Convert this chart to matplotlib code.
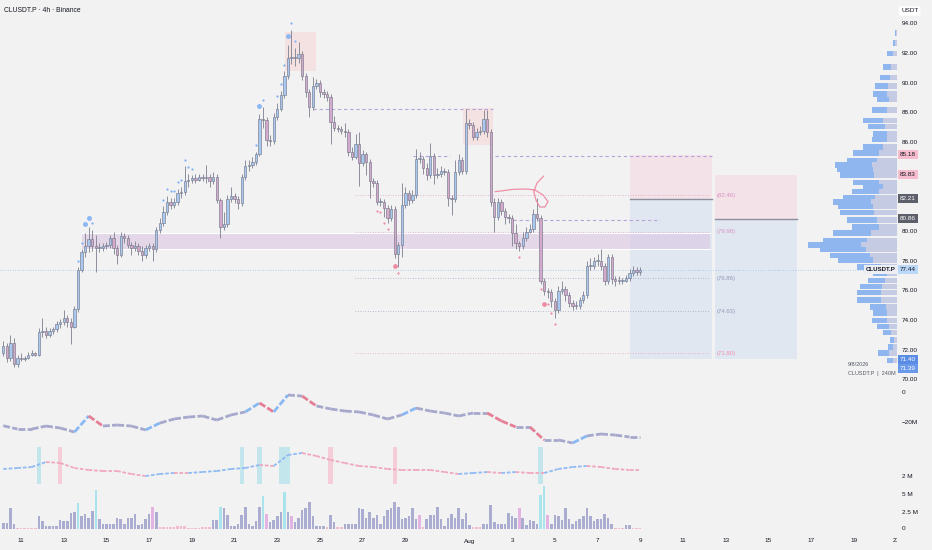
import matplotlib
matplotlib.use("Agg")
import matplotlib.pyplot as plt
from matplotlib.patches import Rectangle
from matplotlib.transforms import blended_transform_factory as blend

plt.rcParams['font.family'] = ['Liberation Sans', 'DejaVu Sans']

# ---- candle data (4h, index 0 .. 179, last = Aug 9 00:00) ----
first_open = 71.8
closes = [
    72.3, 71.5, 72.5, 71.1, 71.5, 71.4, 71.5, 71.7, 71.8, 71.7,
    73.2, 73.3, 73.0, 73.3, 73.4, 73.8, 73.9, 74.2, 73.9, 73.6,
    74.8, 77.4, 78.6, 79.0, 79.5, 79.0, 78.9, 78.9, 79.0, 79.1,
    79.6, 78.9, 78.4, 79.7, 79.6, 79.1, 78.9, 79.0, 78.7, 78.4,
    78.9, 79.0, 78.8, 80.1, 80.6, 81.3, 82.0, 81.8, 82.0, 82.6,
    82.7, 83.4, 83.5, 83.6, 83.5, 83.7, 83.6, 83.7, 83.4, 83.7,
    82.1, 80.3, 80.5, 82.2, 82.4, 82.2, 81.9, 83.7, 84.4, 84.5,
    84.7, 85.2, 87.6, 87.5, 86.2, 86.1, 87.7, 88.3, 89.2, 90.5,
    91.7, 91.8, 91.7, 92.0, 90.5, 89.4, 88.4, 89.8, 90.0, 89.4,
    89.3, 89.1, 87.4, 87.0, 86.9, 86.8, 86.7, 85.4, 85.0, 85.9,
    84.6, 85.2, 84.7, 83.4, 83.3, 82.0, 82.0, 81.6, 80.9, 81.5,
    78.5, 79.1, 81.8, 82.6, 82.1, 82.5, 84.9, 84.9, 84.3, 83.8,
    85.1, 83.8, 83.9, 84.1, 84.0, 82.3, 82.2, 84.0, 84.8, 84.1,
    87.3, 87.2, 86.4, 86.7, 86.8, 87.6, 86.7, 82.0, 81.0, 82.0,
    81.4, 81.0, 80.9, 79.9, 79.2, 79.0, 79.6, 80.0, 80.2, 81.2,
    80.9, 76.7, 76.0, 75.9, 75.3, 74.7, 76.0, 76.1, 75.7, 75.2,
    75.0, 75.0, 75.4, 75.7, 77.7, 77.7, 78.0, 78.0, 77.7, 76.7,
    78.3, 76.8, 76.7, 76.7, 76.7, 76.9, 77.2, 77.4, 77.3, 77.44,
]
highs = [
    72.6, 72.5, 73.0, 72.8, 71.7, 71.8, 71.6, 71.9, 72.0, 71.9,
    73.5, 74.2, 73.6, 73.5, 73.6, 74.0, 74.1, 74.7, 74.4, 74.2,
    75.0, 77.6, 78.8, 79.9, 80.3, 80.1, 79.8, 79.2, 79.2, 79.3,
    79.8, 80.0, 79.1, 80.0, 79.9, 79.8, 79.3, 79.4, 79.2, 79.0,
    79.1, 79.2, 79.2, 80.3, 80.9, 81.7, 82.4, 82.3, 82.3, 82.9,
    83.0, 84.4, 83.9, 83.8, 83.9, 83.9, 83.9, 84.5, 83.9, 84.0,
    83.9, 82.3, 81.3, 82.5, 83.0, 82.6, 82.4, 83.9, 84.8, 84.8,
    85.0, 85.4, 87.9, 88.4, 87.7, 86.5, 88.0, 88.7, 89.5, 90.8,
    92.6, 93.6, 92.4, 92.8, 92.2, 90.7, 89.6, 90.4, 90.3, 90.2,
    89.6, 89.5, 89.3, 87.8, 87.2, 87.1, 87.3, 86.9, 85.7, 86.6,
    86.7, 85.5, 85.4, 84.9, 83.6, 83.5, 82.3, 82.2, 81.8, 81.8,
    81.7, 79.3, 83.3, 83.0, 82.8, 82.8, 85.6, 85.4, 85.1, 84.6,
    86.0, 85.3, 84.3, 84.4, 84.3, 84.2, 82.5, 84.8, 85.2, 85.0,
    88.3, 87.6, 87.4, 87.0, 87.1, 88.2, 88.2, 86.9, 82.3, 82.3,
    82.2, 81.6, 81.2, 81.1, 80.5, 79.4, 80.0, 80.3, 80.5, 81.5,
    82.3, 81.1, 76.9, 76.2, 76.1, 75.5, 76.3, 76.7, 76.3, 75.9,
    75.4, 75.3, 75.6, 76.0, 78.0, 78.2, 78.3, 78.5, 78.8, 77.9,
    78.5, 78.5, 77.0, 77.0, 76.9, 77.1, 77.5, 77.7, 77.6, 77.6,
]
lows = [
    71.6, 71.2, 71.3, 70.9, 70.9, 71.3, 71.3, 71.4, 71.6, 71.6,
    71.6, 72.9, 72.8, 72.9, 73.1, 73.2, 73.5, 73.7, 73.6, 72.4,
    73.5, 74.6, 77.3, 78.3, 78.6, 78.7, 77.3, 78.6, 78.7, 78.8,
    78.9, 78.5, 77.8, 78.3, 79.2, 78.9, 78.4, 78.7, 78.4, 78.0,
    78.2, 78.7, 78.0, 78.6, 79.9, 80.4, 81.1, 81.5, 81.6, 81.8,
    82.3, 82.5, 83.0, 83.3, 83.3, 83.4, 83.4, 83.3, 83.0, 83.2,
    81.9, 79.6, 80.1, 80.3, 82.0, 81.9, 81.5, 81.7, 83.5, 84.1,
    84.3, 84.5, 85.1, 87.0, 85.8, 85.8, 85.9, 87.5, 88.1, 89.0,
    90.3, 91.3, 91.2, 91.4, 90.2, 89.1, 87.7, 88.2, 89.6, 89.1,
    89.0, 88.8, 85.9, 86.8, 86.7, 86.6, 86.4, 85.1, 84.8, 84.9,
    83.1, 84.4, 83.8, 82.3, 83.0, 81.8, 81.7, 81.0, 80.6, 80.7,
    78.2, 77.6, 78.3, 81.6, 81.8, 81.9, 82.3, 84.6, 83.9, 83.5,
    83.6, 83.2, 83.6, 83.7, 83.8, 81.7, 81.1, 82.0, 83.8, 83.9,
    83.9, 86.9, 86.2, 86.2, 86.5, 86.6, 86.4, 81.7, 80.0, 80.8,
    81.1, 80.5, 80.6, 79.0, 78.8, 78.7, 78.8, 79.4, 79.9, 80.0,
    80.7, 76.5, 75.7, 75.5, 74.9, 74.2, 74.5, 75.8, 75.3, 74.9,
    74.7, 74.8, 74.8, 75.2, 75.5, 77.4, 77.5, 77.7, 77.4, 76.4,
    76.5, 76.5, 76.3, 76.5, 76.5, 76.6, 76.7, 77.0, 77.1, 77.1,
]
volume_m = [
    0.96, 0.96, 3.23, 0.88, 0.29, 0.29, 0.29, 0.29, 0.29, 0.29,
    1.91, 1.18, 0.51, 0.51, 0.51, 0.51, 1.40, 1.32, 1.32, 2.43,
    2.50, 3.90, 1.91, 2.21, 1.76, 2.65, 5.88, 1.47, 0.74, 0.74,
    0.74, 0.74, 1.76, 1.47, 0.88, 1.62, 1.62, 2.35, 0.66, 0.88,
    1.47, 2.21, 3.38, 2.50, 0.37, 0.37, 0.37, 0.37, 0.37, 0.44,
    0.44, 0.44, 0.29, 0.29, 0.29, 0.29, 0.37, 0.37, 0.37, 1.40,
    1.40, 3.38, 3.23, 2.13, 0.51, 0.51, 0.88, 2.06, 3.38, 0.81,
    0.51, 1.32, 3.38, 4.92, 2.35, 1.10, 1.40, 1.91, 2.57, 5.44,
    2.57, 1.91, 1.10, 1.62, 2.87, 3.23, 3.97, 1.91, 0.51, 0.51,
    0.51, 0.37, 2.13, 1.03, 0.37, 0.37, 0.88, 0.88, 0.88, 0.88,
    3.09, 2.94, 1.62, 2.57, 1.76, 2.13, 0.88, 1.91, 2.87, 3.23,
    3.97, 3.38, 1.47, 1.62, 1.91, 3.23, 1.47, 2.13, 0.37, 1.47,
    2.13, 2.13, 3.38, 1.47, 0.51, 1.76, 2.35, 1.76, 3.23, 1.47,
    2.43, 0.66, 0.37, 0.37, 0.37, 0.88, 0.88, 3.60, 1.03, 0.88,
    0.81, 0.81, 2.43, 1.91, 1.76, 3.09, 1.76, 0.66, 1.40, 1.18,
    0.81, 5.07, 6.39, 2.13, 0.81, 2.13, 1.91, 1.40, 3.09, 1.47,
    0.88, 1.18, 1.47, 1.91, 3.23, 1.91, 1.18, 1.47, 1.47, 2.21,
    1.62, 0.81, 0.29, 0.29, 0.29, 0.59, 0.59, 0.29, 0.29, 0.29,
]
vol_cyan = [21, 26, 61, 73, 79, 151, 152]
vol_magenta = [42, 74, 81, 117, 145, 153]

# indicator panes, sampled every 4 candles
ind_idx = list(range(0, 180, 4)) + [179]
cvd_m = [-22.5, -24.7, -24.7, -22.7, -24.0, -26.7, -16.0, -22.7, -22.0, -22.7,
         -25.3, -20.7, -18.0, -16.7, -16.0, -18.7, -15.3, -13.3, -7.3, -13.3,
         -2.0, -2.7, -9.3, -11.3, -12.7, -13.3, -15.3, -18.0, -15.3, -10.7,
         -12.7, -14.0, -16.0, -14.0, -14.0, -19.3, -23.3, -23.3, -32.0, -32.0,
         -34.0, -29.3, -28.0, -28.7, -30.0, -30.0]
osc_m = [3.6, 3.8, 4.0, 5.0, 4.8, 3.8, 3.4, 3.2, 3.2, 2.6,
         2.2, 2.6, 2.8, 2.8, 3.0, 3.2, 3.6, 3.8, 4.4, 4.2,
         6.4, 6.8, 6.2, 5.4, 4.8, 4.2, 4.0, 3.6, 3.4, 3.4,
         3.4, 3.0, 2.6, 2.8, 3.0, 2.8, 3.0, 2.8, 2.8, 3.6,
         4.0, 4.2, 4.0, 3.6, 3.4, 3.4]
osc_bands_blue = [(10, 1), (67, 1), (72, 1), (78, 3), (151, 1)]
osc_bands_pink = [(16, 1), (92, 1), (110, 1)]

# markers
dots_up_small = [21, 22, 25, 45, 46, 47, 48, 49, 50, 51, 52, 53, 71, 73, 77, 78, 79, 81, 82]
dots_up_big = [23, 24, 72, 80]
dots_dn_small = [105, 106, 107, 108, 111, 145, 151, 153, 154, 155]
dots_dn_big = [110, 152]

# volume profile (price row, relative width)
prof_price = [93.4, 92.7, 92.0, 91.1, 90.4, 89.8, 89.3, 88.9, 88.2, 87.5, 87.1, 86.6,
              86.2, 85.7, 85.3, 84.8, 84.5, 84.2, 83.8, 83.3, 83.0, 82.7, 82.3, 82.0,
              81.7, 81.3, 80.8, 80.3, 79.9, 79.4, 79.1, 78.8, 78.4, 78.1, 77.6, 77.2,
              76.7, 76.3, 75.9, 75.4, 74.9, 74.5, 74.0, 73.6, 73.2, 72.7, 72.2, 71.8, 71.3]
prof_width = [2, 4, 10, 14, 17, 22, 24, 20, 25, 34, 29, 24,
              25, 34, 44, 50, 62, 60, 57, 44, 34, 45, 54, 64,
              59, 57, 50, 45, 64, 74, 89, 77, 67, 59, 40, 24,
              29, 37, 40, 40, 27, 24, 25, 20, 14, 7, 9, 19, 10]

# drawings
peak_boxes = [(79.2, 87.8, 90.85, 93.45), (129.2, 137.6, 85.84, 88.34)]
zone_band = (22.1, 198.6, 78.83, 79.90)
dashed_levels = [(88.27, 87.0, 137.6), (85.10, 115.1, 125.5), (85.10, 138.2, 199.2), (80.80, 143.2, 184.5)]
fib_levels = [82.46, 79.98, 76.86, 74.63, 71.80]
fib_labels = ["(82.46)", "(79.98)", "(76.86)", "(74.63)", "(71.80)"]
fib_colors = ["#d993c2", "#d993c2", "#8e97b8", "#8e97b8", "#ec8fae"]
positions = [(176.1, 199.2, 85.18, 82.21, 71.40), (200.0, 223.1, 83.83, 80.86, 71.39)]
swoosh_x = [138.2, 143.3, 147.2, 149.4, 151.7, 153.1, 152.2, 150.8, 149.7, 149.1, 150.0, 151.9]
swoosh_y = [82.69, 82.85, 82.87, 82.81, 82.47, 82.02, 81.66, 81.66, 82.13, 82.69, 83.28, 83.75]
last_price = 77.44

price_ticks = [94, 92, 90, 88, 86, 84, 82, 80, 78, 76, 74, 72, 70]
date_days = [11, 13, 15, 17, 19, 21, 23, 25, 27, 29, 32, 34, 36, 38, 40, 42, 44, 46, 48, 50, 52]
date_labels = ["11", "13", "15", "17", "19", "21", "23", "25", "27", "29", "Aug",
               "3", "5", "7", "9", "11", "13", "15", "17", "19", "21"]

# ---- layout ----
W, H = 932, 550
BG = "#f2f2f2"
TXT = "#131722"
def fx(px):
    return px / W
def fy(py):
    return 1 - py / H

XL = (-0.92, 251.17)
PX = 3.5583  # pixels per candle
fig = plt.figure(figsize=(W / 100, H / 100), dpi=100, facecolor=BG)
ax = fig.add_axes([0, fy(385), fx(897), 385 / H])
ax1 = fig.add_axes([0, fy(447), fx(897), 62 / H])
ax2 = fig.add_axes([0, fy(484), fx(897), 37 / H])
axv = fig.add_axes([0, fy(532), fx(897), 48 / H])
for a in (ax, ax1, ax2, axv):
    a.set_axis_off()
    a.set_xlim(*XL)
ax.set_ylim(69.657, 95.618)
ax1.set_ylim(-36.67, 4.67)
ax2.set_ylim(0.6, 8.0)
axv.set_ylim(-0.37, 6.69)

# boxes and zones
for x0, x1, p0, p1 in peak_boxes:
    ax.add_patch(Rectangle((x0, p0), x1 - x0, p1 - p0, fc="#f4e1e2", ec="none", zorder=1))
for x0, x1, top, mid, bot in positions:
    ax.add_patch(Rectangle((x0, mid), x1 - x0, top - mid, fc="#f3e2e8", ec="none", zorder=1))
    ax.add_patch(Rectangle((x0, bot), x1 - x0, mid - bot, fc="#e1e7f1", ec="none", zorder=1))
    ax.plot([x0, x1], [mid, mid], color="#8d909c", lw=1.0, zorder=2)
bx0, bx1, bp0, bp1 = zone_band
ax.add_patch(Rectangle((bx0, bp0), bx1 - bx0, bp1 - bp0, fc="#d8c0e0", alpha=0.5, ec="none", zorder=2))
ax.plot([bx0, bx1], [bp0, bp0], color="white", lw=0.8, zorder=2)
ax.plot([bx0, bx1], [bp1, bp1], color="white", lw=0.8, zorder=2)

for lvl, x0, x1 in dashed_levels:
    ax.plot([x0, x1], [lvl, lvl], color="#b5a3dc", lw=0.8, ls=(0, (3, 2.5)), zorder=3)
for lvl, lab, col in zip(fib_levels, fib_labels, fib_colors):
    ax.plot([98.85, 198.6], [lvl, lvl], color=col, lw=0.6, ls=(0, (1, 2)), alpha=0.8, zorder=3)
    ax.text(200.6, lvl, lab, fontsize=4.3, color=col, va="center", ha="left", zorder=6)
ax.plot([XL[0], 243.8], [last_price, last_price], color="#9dbdf0", lw=0.6, ls=(0, (1, 2)), zorder=3)

# volume profile: blue (left part) over grey-lavender (near the scale)
for p, w in zip(prof_price, prof_width):
    wd = w / PX
    ax.barh(p, wd, left=XL[1] - wd, height=0.38, color="#c5cbe2", lw=0, zorder=4)
    ax.barh(p, wd * 0.6, left=XL[1] - wd, height=0.38, color="#8fb6ef", lw=0, zorder=4)

# candles
opens = [first_open] + closes[:-1]
for i, (o, c, h, l) in enumerate(zip(opens, closes, highs, lows)):
    up = c >= o
    ax.vlines(i, l, h, color="#7c7f8e", lw=0.6, zorder=5)
    bot = min(o, c)
    ht = max(abs(c - o), 0.07)
    ax.bar(i, ht, bottom=bot, width=0.66, color="#a8c8ef" if up else "#d4a9cb",
           edgecolor="#6b6f82", linewidth=0.4, zorder=6)

for i in dots_up_small:
    ax.plot(i, highs[i] + 0.45, "o", ms=1.6, color="#7fb0f2", mec="none", zorder=7)
for i in dots_up_big:
    ax.plot(i, highs[i] + 0.6, "o", ms=3.6, color="#8cb8f4", mec="none", zorder=7)
for i in dots_dn_small:
    ax.plot(i, lows[i] - 0.4, "o", ms=1.6, color="#ee8aa4", mec="none", zorder=7)
for i in dots_dn_big:
    ax.plot(i, lows[i] - 0.55, "o", ms=3.4, color="#ee8aa4", mec="none", zorder=7)

ax.plot(swoosh_x, swoosh_y, color="#ef8ea6", lw=0.9, zorder=8, solid_capstyle="round")

# pane 1 : cumulative delta
for k in range(len(ind_idx) - 1):
    d = cvd_m[k + 1] - cvd_m[k]
    col = "#e57f95" if d <= -4 else ("#8ab8f3" if d >= 4 else "#a6a9cc")
    ax1.plot(ind_idx[k:k + 2], cvd_m[k:k + 2], color=col, lw=2.0, ls=(0, (2.5, 0.8)),
             solid_capstyle="butt", zorder=3)

# pane 2 : oscillator with highlight columns
for i, n in osc_bands_blue:
    ax2.add_patch(Rectangle((i - 0.6, 0.6), n + 0.2, 7.4, fc="#c3e6ec", ec="none", zorder=1))
for i, n in osc_bands_pink:
    ax2.add_patch(Rectangle((i - 0.6, 0.6), n + 0.2, 7.4, fc="#f5cdd8", ec="none", zorder=1))
for k in range(len(ind_idx) - 1):
    d = osc_m[k + 1] - osc_m[k]
    col = "#8fbaf3" if d > 0 else "#f0a7bd"
    ax2.plot(ind_idx[k:k + 2], osc_m[k:k + 2], color=col, lw=1.3, ls=(0, (2, 1)), zorder=3)

# volume
for i, v in enumerate(volume_m):
    if i in vol_cyan:
        col = "#a9e4ec"
    elif i in vol_magenta:
        col = "#e3b4e2"
    elif v < 0.45:
        col = "#f2bccb"
    else:
        col = "#abadd0"
    axv.bar(i, v, width=0.72, color=col, lw=0, zorder=3)

# ---- text ----
tp = blend(fig.transFigure, ax.transData)
for t in price_ticks:
    ax.text(fx(902), t, f"{t:.2f}", transform=tp, fontsize=4.6, color=TXT,
            va="center", ha="left", clip_on=False, zorder=15)

def tag(price, txt, fc, tc):
    ax.text(fx(900), price, txt, transform=tp, fontsize=4.6, color=tc, va="center", ha="left",
            clip_on=False, zorder=20,
            bbox=dict(boxstyle="square,pad=0.3", fc=fc, ec="none"))

tag(85.18, "85.18", "#f7bccd", TXT)
tag(83.83, "83.83", "#f7bccd", TXT)
tag(82.21, "82.21", "#5d606b", "white")
tag(80.86, "80.86", "#5d606b", "white")
tag(last_price, "77.44", "#bcd8f8", TXT)
tag(71.40, "71.40", "#5a8ce4", "white")
tag(71.39 - 0.62, "71.39", "#6a99ea", "white")
ax.text(fx(896), last_price, "CLUSDT.P", transform=tp, fontsize=4.4, color=TXT, fontweight="bold",
        va="center", ha="right", clip_on=False, zorder=20,
        bbox=dict(boxstyle="square,pad=0.3", fc="#eceef3", ec="none"))

fig.text(fx(848), fy(364), "9/8/2026", fontsize=4.0, color="#555a66", va="center")
fig.text(fx(848), fy(374), "CLUSDT.P  |  240M", fontsize=4.0, color="#555a66", va="center")

fig.text(fx(4), fy(10), "CLUSDT.P · 4h · Binance", fontsize=4.9, color=TXT, va="center")
fig.text(fx(901), fy(11), "USDT", fontsize=4.6, color=TXT, va="center",
         bbox=dict(boxstyle="round,pad=0.35,rounding_size=0.3", fc="white", ec="none"))

for txt, py in [("0", 392), ("\u221220M", 422), ("2 M", 477), ("5 M", 495), ("2.5 M", 512), ("0", 528)]:
    fig.text(fx(902), fy(py), txt, fontsize=4.6, color=TXT, va="center")

# date scale; the last label is cut off by the price scale column
td = blend(axv.transData, fig.transFigure)
for d, lab in zip(date_days, date_labels):
    axv.text(6 * d - 61, fy(541), lab, transform=td, fontsize=4.6, color=TXT,
             ha="center", va="center", clip_on=False, zorder=10)
fig.add_artist(Rectangle((fx(896.6), 0), 1 - fx(896.6), 15 / H, transform=fig.transFigure,
                         fc=BG, ec="none", zorder=50))

fig.savefig("out.png", dpi=100, facecolor=BG)
